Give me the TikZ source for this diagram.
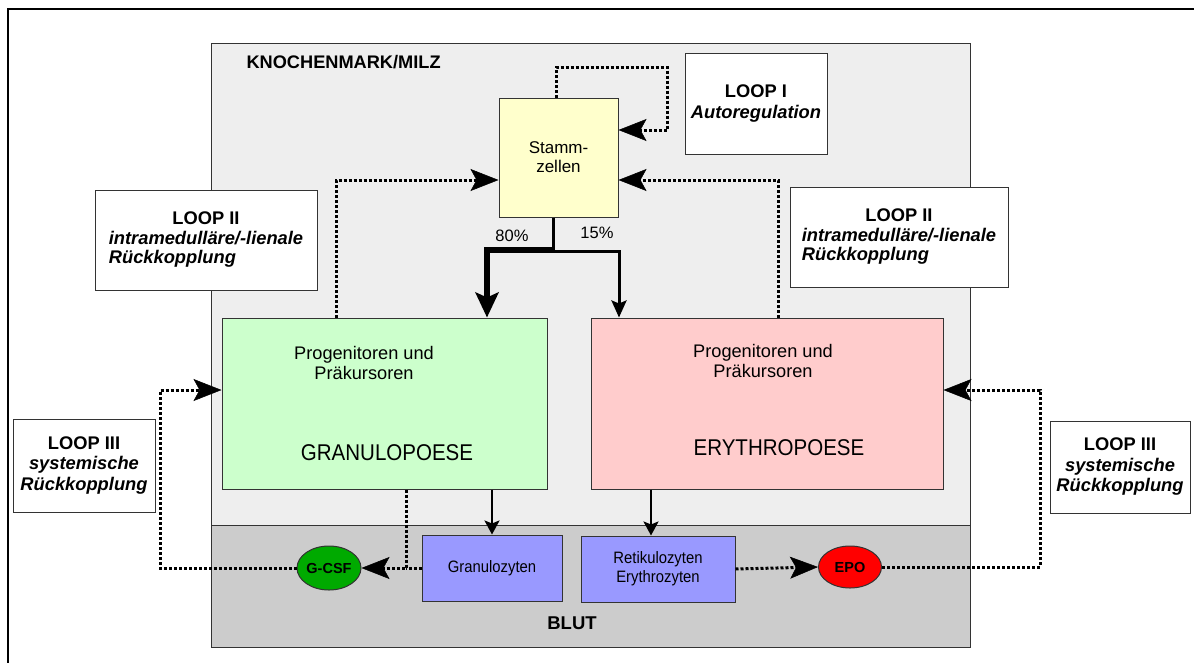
\documentclass[tikz,border=0pt]{standalone}
\usepackage{fontspec}
\setmainfont{Liberation Sans}
\newfontfamily\condfont[FakeStretch=0.9]{Liberation Sans}
\usetikzlibrary{arrows.meta,shapes.geometric}

\definecolor{markgray}{HTML}{EEEEEE}
\definecolor{blutgray}{HTML}{CCCCCC}
\definecolor{stammyellow}{HTML}{FFFFCC}
\definecolor{granugreen}{HTML}{CCFFCC}
\definecolor{erypink}{HTML}{FFCCCC}
\definecolor{zellblue}{HTML}{9999FF}
\definecolor{gcsfgreen}{HTML}{00AA00}
\definecolor{borderdark}{HTML}{333333}

\begin{document}
\begin{tikzpicture}[x=1pt,y=-1pt,
    box/.style={draw=borderdark, line width=1pt, rectangle, inner sep=0pt},
    loopbox/.style={box, fill=white, align=center, font=\fontsize{18.3}{20.5}\selectfont\bfseries},
    poesebox/.style={box, minimum width=#1, minimum height=171pt},
    zellbox/.style={box, fill=zellblue, minimum height=66pt, align=center, font=\condfont\fontsize{16.5}{19}\selectfont},
    hormone/.style={ellipse, draw=borderdark, line width=1pt, inner sep=0pt, font=\fontsize{14.5}{16}\selectfont\bfseries},
    feedback/.style={line width=3pt, dash pattern=on 3pt off 2pt},
    fbarrow/.style={feedback, -{Stealth[length=28pt,width=22pt,inset=6pt,line width=0.5pt]}},
    flowarrow/.style={line width=2.5pt, -{Stealth[length=14pt,width=15pt,inset=3pt]}}
  ]
  \useasboundingbox (0,0) rectangle (1194,662);

  % Draw the two compartments
  \node[box, fill=markgray, minimum width=759pt, minimum height=482pt] (mark) at (590.5,284) {};
  \node[box, fill=blutgray, minimum width=759pt, minimum height=122pt] (blut) at (590.5,586) {};
  \node[anchor=west, font=\fontsize{18.2}{20}\selectfont\bfseries] (marklabel) at (243,62) {KNOCHENMARK/MILZ};
  \node[font=\fontsize{18.5}{20}\selectfont\bfseries] (blutlabel) at (572,623) {BLUT};

  % outer frame
  \draw[line width=2pt] (8,9) rectangle (1240,700);

  % Draw the cell boxes
  \node[box, fill=stammyellow, minimum width=119pt, minimum height=119pt, align=center,
        font=\fontsize{17}{19}\selectfont] (stamm) at (558.5,157.5) {Stamm-\\zellen};
  \node[poesebox=325pt, fill=granugreen] (granulo) at (384.5,403.5) {};
  \node[poesebox=352pt, fill=erypink] (ery) at (767,403.5) {};
  \node[align=center, font=\fontsize{18.2}{20}\selectfont] (progG) at ([xshift=-20.5pt, yshift=40.5pt]granulo.center) {Progenitoren und\\Präkursoren};
  \node[font=\condfont\fontsize{22.8}{25}\selectfont] (granuname) at ([xshift=2.5pt, yshift=-49.5pt]granulo.center) {GRANULOPOESE};
  \node[align=center, font=\fontsize{18.2}{20}\selectfont] (progE) at ([xshift=-4pt, yshift=42.5pt]ery.center) {Progenitoren und\\Präkursoren};
  \node[font=\condfont\fontsize{22.8}{25}\selectfont] (eryname) at ([xshift=12pt, yshift=-44.5pt]ery.center) {ERYTHROPOESE};

  % Draw the blood cells and hormones
  \node[zellbox, minimum width=140pt] (granz) at (492,568) {Granulozyten};
  \node[zellbox, minimum width=154pt] (reti) at (658,569) {Retikulozyten\\Erythrozyten};
  \node[hormone, fill=gcsfgreen, minimum width=64pt, minimum height=44pt] (gcsf) at (329,568) {G-CSF};
  \node[hormone, fill=red, minimum width=63pt, minimum height=42pt] (epo) at (850,567) {EPO};

  % Draw the loop boxes
  \node[loopbox, minimum width=142pt, minimum height=101pt] (loop1) at (756,103.5) {LOOP I\\\textit{Autoregulation}};
  \node[loopbox, minimum width=222pt, minimum height=100pt] (loop2l) at (206,240)
    {\begin{tabular}{@{}l@{}}\multicolumn{1}{@{}c@{}}{LOOP II}\\[-1pt]\textit{intramedulläre/-lienale}\\[-1pt]\textit{Rückkopplung}\end{tabular}};
  \node[loopbox, minimum width=218pt, minimum height=100pt] (loop2r) at (899,237)
    {\begin{tabular}{@{}l@{}}\multicolumn{1}{@{}c@{}}{LOOP II}\\[-1pt]\textit{intramedulläre/-lienale}\\[-1pt]\textit{Rückkopplung}\end{tabular}};
  \node[loopbox, minimum width=142pt, minimum height=93pt] (loop3l) at (84,465.5) {LOOP III\\\textit{systemische}\\\textit{Rückkopplung}};
  \node[loopbox, minimum width=140pt, minimum height=92pt] (loop3r) at (1120,467) {LOOP III\\\textit{systemische}\\\textit{Rückkopplung}};

  % Draw the split from the stem cells
  \coordinate (split) at (553,250);
  \draw[line width=3pt] (stamm.south -| split) -- (split);
  \draw[line width=6pt, -{Stealth[length=25pt,width=23pt,inset=5pt]}] (split) -| ([xshift=102.5pt]granulo.north);
  \draw[line width=3pt, -{Stealth[length=17pt,width=15pt,inset=3pt]}] ([yshift=-1.5pt]split) -| ([xshift=-148pt]ery.north);
  \node[font=\fontsize{16.5}{18}\selectfont] (pct80) at (512,236) {80\%};
  \node[font=\fontsize{16.5}{18}\selectfont] (pct15) at (597,233) {15\%};

  % Draw the release into the blood
  \draw[flowarrow] (granulo.south -| granz.north) -- (granz.north);
  \draw[flowarrow] ([xshift=-116pt]ery.south) -- ([xshift=-7pt]reti.north);

  % Draw the feedback loops
  \coordinate (l1) at (667,67);
  \draw[fbarrow] ([xshift=-2.5pt]stamm.north) |- (l1) |- ([yshift=27.5pt]stamm.east);
  \draw[fbarrow] ([xshift=-48.5pt]granulo.north) |- ([yshift=-22.5pt]stamm.west);
  \draw[fbarrow] ([xshift=11pt]ery.north) |- ([yshift=-22.5pt]stamm.east);
  \draw[fbarrow] ([xshift=21.5pt]granulo.south) |- (gcsf.east);
  \draw[feedback] (granz.west) -- ++(-16,0);
  \draw[fbarrow] (reti.east) -- (epo.west);
  \coordinate (l3l) at (160,390);
  \coordinate (l3r) at (1040,390);
  \draw[fbarrow] (gcsf.west) -| (l3l) -- ([yshift=13.5pt]granulo.west);
  \draw[fbarrow] (epo.east) -| (l3r) -- ([yshift=13.5pt]ery.east);
\end{tikzpicture}
\end{document}
